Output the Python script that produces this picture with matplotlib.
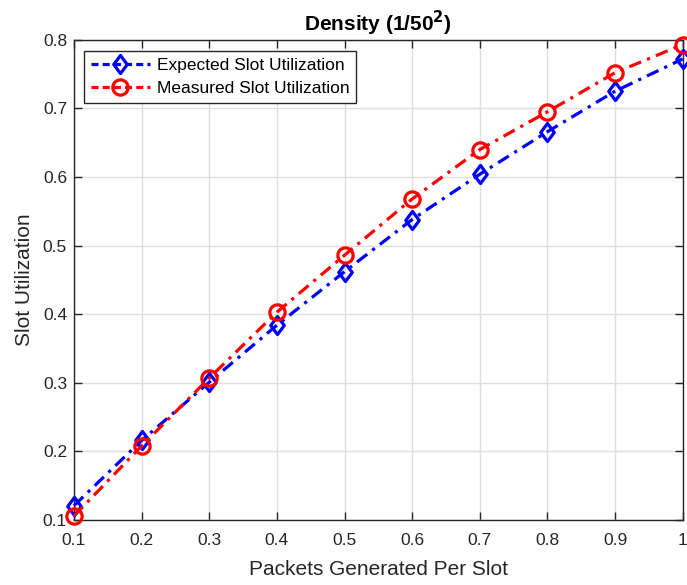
import matplotlib
matplotlib.use("Agg")
import matplotlib.pyplot as plt
from matplotlib.path import Path
from matplotlib.legend_handler import HandlerLine2D

plt.rcParams['font.family'] = ['Liberation Sans', 'DejaVu Sans']

x = [0.1, 0.2, 0.3, 0.4, 0.5, 0.6, 0.7, 0.8, 0.9, 1.0]
expected = [0.121, 0.216, 0.301, 0.384, 0.462, 0.538, 0.604, 0.666, 0.725, 0.772]
measured = [0.106, 0.208, 0.307, 0.403, 0.486, 0.568, 0.640, 0.695, 0.752, 0.793]
xticks = [0.1, 0.2, 0.3, 0.4, 0.5, 0.6, 0.7, 0.8, 0.9, 1.0]
xticklabels = ['0.1', '0.2', '0.3', '0.4', '0.5', '0.6', '0.7', '0.8', '0.9', '1']
yticks = [0.1, 0.2, 0.3, 0.4, 0.5, 0.6, 0.7, 0.8]
yticklabels = ['0.1', '0.2', '0.3', '0.4', '0.5', '0.6', '0.7', '0.8']

diamond = Path([(0, 1), (0.75, 0), (0, -1), (-0.75, 0), (0, 1)],
               [Path.MOVETO, Path.LINETO, Path.LINETO, Path.LINETO, Path.CLOSEPOLY])

fig = plt.figure(figsize=(6.87, 5.85), dpi=100)
ax = fig.add_axes([0.1077, 0.111, 0.886, 0.821])

ax.plot(x, expected, color='#0000ff', linestyle=(0, (4, 2, 1, 2)), linewidth=2.3,
        marker=diamond, markersize=13, markerfacecolor='none', markeredgewidth=2.3,
        label='Expected Slot Utilization', clip_on=False, zorder=3)
ax.plot(x, measured, color='#ff0000', linestyle=(0, (4, 2, 1, 2)), linewidth=2.3,
        marker='o', markersize=11, markerfacecolor='none', markeredgewidth=2.3,
        label='Measured Slot Utilization', clip_on=False, zorder=4)

ax.set_xlim(0.1, 1.0)
ax.set_ylim(0.1, 0.8)
ax.set_xticks(xticks)
ax.set_xticklabels(xticklabels)
ax.set_yticks(yticks)
ax.set_yticklabels(yticklabels)
ax.grid(True, color='#dfdfdf', linewidth=1)
ax.set_axisbelow(True)
ax.tick_params(direction='in', top=True, right=True, labelsize=12.5,
               colors='#262626', length=6, width=1)
ax.tick_params(axis='x', pad=9)
ax.tick_params(axis='y', pad=5)
for s in ax.spines.values():
    s.set_color('#262626')
    s.set_linewidth(1)

ax.set_xlabel('Packets Generated Per Slot', fontsize=15, color='#262626', labelpad=9)
ax.set_ylabel('Slot Utilization', fontsize=15, color='#262626', labelpad=6)
ax.set_title('Density (1/50$^\\mathbf{2}$)', fontsize=15, fontweight='bold', pad=6)


def dashed_handle(h, o):
    h.update_from(o)
    h.set_linestyle((0, (2.2, 1.3)))


leg = ax.legend(loc='upper left', fontsize=12.5, fancybox=False, framealpha=1,
                edgecolor='#262626', borderpad=0.4, handlelength=3.4,
                bbox_to_anchor=(0.016, 0.976), labelspacing=0.45, handletextpad=0.4,
                borderaxespad=0,
                handler_map={plt.Line2D: HandlerLine2D(update_func=dashed_handle)})
leg.get_frame().set_linewidth(1)

fig.savefig('out.png', dpi=100)
